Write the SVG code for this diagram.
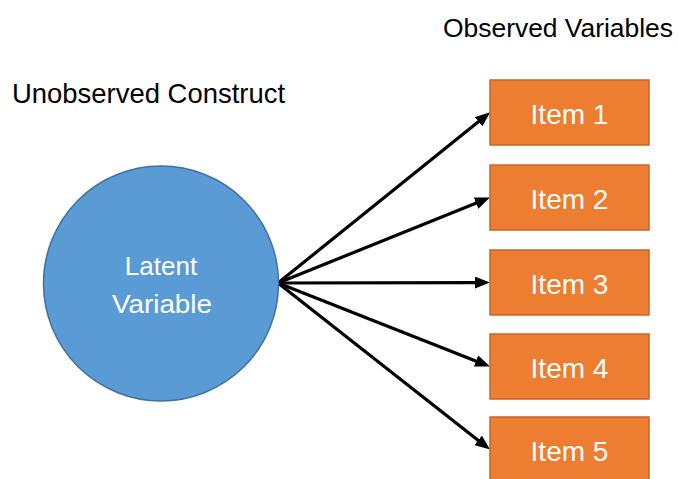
<svg xmlns="http://www.w3.org/2000/svg" width="678" height="479" viewBox="0 0 678 479">
<defs>
<style>
.lbl{font-family:"Liberation Sans",Arial,sans-serif;font-size:28px;fill:#000}
.box{fill:#ED7D31;stroke:#C5652A;stroke-width:1.5}
.btxt{font-family:"Liberation Sans",Arial,sans-serif;font-size:28px;fill:#fff;text-anchor:middle}
.ctxt{font-family:"Liberation Sans",Arial,sans-serif;font-size:26px;fill:#fff;text-anchor:middle}
.conn{stroke:#000;stroke-width:3.2;fill:none;marker-end:url(#ah)}
</style>
<marker id="ah" markerUnits="userSpaceOnUse" viewBox="0 0 15 12" markerWidth="15" markerHeight="12" refX="1" refY="6" orient="auto">
<path d="M0,0 L15,6 L0,12 z" fill="#000"/>
</marker>
</defs>
<rect width="678" height="479" fill="#fff"/>
<text class="lbl" x="443" y="37" style="font-size:26px" textLength="230" lengthAdjust="spacingAndGlyphs">Observed Variables</text>
<text class="lbl" x="12" y="103" textLength="273" lengthAdjust="spacingAndGlyphs">Unobserved Construct</text>
<g id="connectors">
<line class="conn" x1="278" y1="283" x2="479.3" y2="121.1"/>
<line class="conn" x1="278" y1="283" x2="477" y2="202.8"/>
<line class="conn" x1="278" y1="283" x2="476" y2="282.6"/>
<line class="conn" x1="278" y1="283" x2="477" y2="361.4"/>
<line class="conn" x1="278" y1="283" x2="479" y2="440.9"/>
</g>
<g id="latent">
<circle cx="161" cy="283.5" r="117.5" fill="#5B9BD5" stroke="#41719C" stroke-width="1.5"/>
<text class="ctxt" x="161" y="275">Latent</text>
<text class="ctxt" x="162" y="313" textLength="100" lengthAdjust="spacingAndGlyphs">Variable</text>
</g>
<g id="item1"><rect class="box" x="490" y="80" width="159" height="65"/><text class="btxt" x="569.5" y="124">Item 1</text></g>
<g id="item2"><rect class="box" x="490" y="165" width="159" height="65"/><text class="btxt" x="569.5" y="209">Item 2</text></g>
<g id="item3"><rect class="box" x="490" y="250" width="159" height="65"/><text class="btxt" x="569.5" y="294">Item 3</text></g>
<g id="item4"><rect class="box" x="490" y="334" width="159" height="65"/><text class="btxt" x="569.5" y="378">Item 4</text></g>
<g id="item5"><rect class="box" x="490" y="417" width="159" height="65"/><text class="btxt" x="569.5" y="461">Item 5</text></g>
</svg>
